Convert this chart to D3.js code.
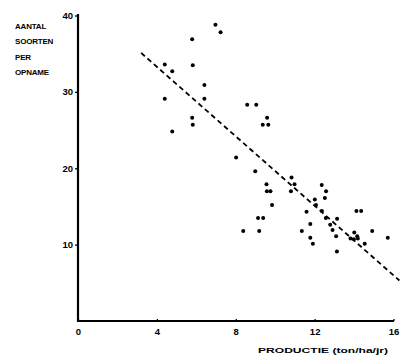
<!DOCTYPE html>
<html>
<head>
<meta charset="utf-8">
<script src="https://cdn.jsdelivr.net/npm/d3@7"></script>
<style>
  body { margin: 0; background: #fff; }
  text { font-family: "Liberation Sans", Arial, sans-serif; font-weight: bold; fill: #000; }
</style>
</head>
<body>
<div id="chart"></div>
<script>
// productie (ton/ha/jr) vs aantal soorten per opname
var productie = [6.97, 7.23, 5.79, 4.40, 5.82, 4.78, 6.41, 4.40, 6.41, 5.79, 5.82, 4.78,
    8.02, 8.58, 9.04, 9.59, 9.37, 9.65, 8.99, 9.56, 9.58, 9.76, 9.84, 9.13, 9.39, 8.38, 9.19,
    10.83, 10.98, 10.80, 12.36, 12.58, 12.52, 12.01, 12.07, 11.59, 12.37, 12.57, 13.14, 11.78,
    12.79, 11.35, 12.91, 11.78, 11.91, 13.09, 13.13, 14.12, 14.36, 14.01, 14.16, 13.82, 13.99,
    14.19, 14.54, 14.92, 15.71];
var soorten = [38.8, 37.8, 36.9, 33.6, 33.5, 32.7, 30.9, 29.1, 29.1, 26.6, 25.7, 24.8,
    21.4, 28.3, 28.3, 26.6, 25.7, 25.7, 19.6, 17.9, 17.0, 17.0, 15.2, 13.5, 13.5, 11.8, 11.8,
    18.8, 17.9, 17.0, 17.8, 17.0, 16.1, 15.9, 15.2, 14.3, 14.4, 13.5, 13.4, 12.7,
    12.6, 11.8, 11.9, 10.9, 10.1, 11.1, 9.1, 14.4, 14.4, 11.6, 11.1, 10.8, 10.7,
    10.8, 10.1, 11.8, 10.9];

// regression line ends
var lijnX = [3.2, 16.3];
var lijnY = [35.1, 5.3];

var xTicks = [0, 4, 8, 12, 16];
var yTicks = [10, 20, 30, 40];
var yTitel = ["AANTAL", "SOORTEN", "PER", "OPNAME"];
var xTitel = "PRODUCTIE (ton/ha/jr)";

var svgWidth = 400;
var svgHeight = 356;

var svg = d3.select("#chart")
    .append("svg")
    .attr("width", svgWidth)
    .attr("height", svgHeight);

var xScale = d3.scaleLinear()
    .domain([0, 16])
    .range([78, 393.5]);

var yScale = d3.scaleLinear()
    .domain([0, 40])
    .range([321, 15.5]);

// axes
var bottomAxis = d3.axisBottom(xScale)
    .tickValues(xTicks)
    .tickSizeInner(-2)
    .tickSizeOuter(0)
    .tickPadding(7);

var leftAxis = d3.axisLeft(yScale)
    .tickValues(yTicks)
    .tickSizeInner(3)
    .tickSizeOuter(0)
    .tickPadding(2);

var xAxis = svg.append("g")
    .attr("transform", "translate(0, 321)")
    .call(bottomAxis);

var yAxis = svg.append("g")
    .attr("transform", "translate(78, 0)")
    .call(leftAxis);

xAxis.select(".domain").attr("stroke-width", 2).attr("d", "M77,0H394");
yAxis.select(".domain").attr("stroke-width", 2.2).attr("d", "M0,14V322");
svg.selectAll(".tick line").attr("stroke-width", 1.3);
svg.selectAll(".tick text")
    .style("font-size", "9.5px")
    .style("font-weight", "bold")
    .style("font-family", "Liberation Sans, Arial, sans-serif");

// y title
svg.selectAll(".ytitel")
    .data(yTitel)
    .enter()
    .append("text")
    .attr("class", "ytitel")
    .attr("x", 15)
    .attr("y", (d, i) => 28.5 + i * 15.5)
    .style("font-size", "8px")
    .style("letter-spacing", "-0.2px")
    .text(d => d);

// x title
svg.append("text")
    .attr("x", 258)
    .attr("y", 353)
    .attr("textLength", 130)
    .attr("lengthAdjust", "spacingAndGlyphs")
    .style("font-size", "8px")
    .text(xTitel);

// dashed regression line
svg.append("line")
    .attr("x1", xScale(lijnX[0]))
    .attr("y1", yScale(lijnY[0]))
    .attr("x2", xScale(lijnX[1]))
    .attr("y2", yScale(lijnY[1]))
    .attr("stroke", "#000")
    .attr("stroke-width", 1.8)
    .attr("stroke-dasharray", "5,3.5");

// points
svg.selectAll("circle")
    .data(productie)
    .enter()
    .append("circle")
    .attr("cx", d => xScale(d))
    .attr("cy", (d, i) => yScale(soorten[i]))
    .attr("r", 2)
    .attr("fill", "#000");
</script>
</body>
</html>
